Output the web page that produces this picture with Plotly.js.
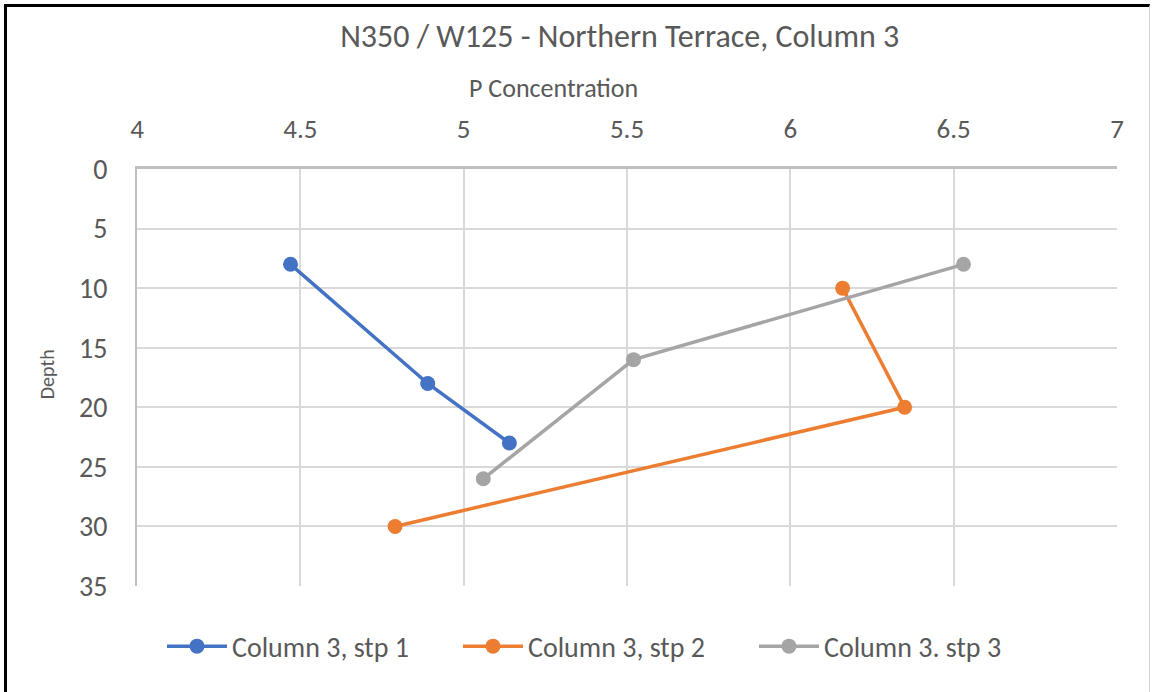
<!DOCTYPE html>
<html>
<head>
<meta charset="utf-8">
<script src="https://cdn.plot.ly/plotly-3.0.1.min.js"></script>
<style>
  html, body { margin: 0; padding: 0; background: #fff; }
  #wrap { position: relative; width: 1152px; height: 692px; }
  #chart { width: 1152px; height: 692px; }
  #frame { position: absolute; left: 4px; top: 4px; width: 1146px; height: 688px;
           border-top: 3px solid #000; border-left: 3px solid #000; border-right: 1px solid #d0d0d0;
           box-sizing: border-box; pointer-events: none; }
</style>
</head>
<body>
<div id="wrap">
  <div id="chart"></div>
  <div id="frame"></div>
</div>
<script>
const seriesNames = ["Column 3, stp 1", "Column 3, stp 2", "Column 3. stp 3"];
const stp1_conc = [4.47, 4.89, 5.14];
const stp1_depth = [8, 18, 23];
const stp2_conc = [6.16, 6.35, 4.79];
const stp2_depth = [10, 20, 30];
const stp3_conc = [6.53, 5.52, 5.06];
const stp3_depth = [8, 16, 26];
const colors = ["#4472C4", "#ED7D31", "#A5A5A5"];

const xs = [stp1_conc, stp2_conc, stp3_conc];
const ys = [stp1_depth, stp2_depth, stp3_depth];
const FONT = "Carlito, 'Open Sans', sans-serif";

const traces = xs.map((x, i) => ({
  x: x, y: ys[i], name: seriesNames[i], type: "scatter", mode: "lines+markers",
  line: {color: colors[i], width: 3.5},
  marker: {color: colors[i], size: 15}
}));

const layout = {
  width: 1152, height: 692,
  margin: {l: 137, r: 35, t: 169, b: 106, autoexpand: false},
  paper_bgcolor: "#fff", plot_bgcolor: "#fff",
  font: {family: FONT, color: "#595959"},
  title: {text: "N350 / W125 - Northern Terrace, Column 3", x: 0.538, xanchor: "center",
          y: 0.948, yanchor: "middle", font: {size: 32, color: "#595959", family: FONT}},
  xaxis: {
    side: "top", range: [4, 7], dtick: 0.5, tick0: 4,
    showgrid: true, gridcolor: "#D9D9D9", gridwidth: 2,
    showline: true, linecolor: "#BFBFBF", linewidth: 3,
    zeroline: false, ticks: "", ticklabelstandoff: 17,
    tickfont: {size: 27, color: "#595959"}
  },
  yaxis: {
    range: [35, 0], dtick: 5, tick0: 0,
    showgrid: true, gridcolor: "#D9D9D9", gridwidth: 2,
    showline: true, linecolor: "#BFBFBF", linewidth: 2,
    zeroline: false, ticks: "", ticklabelstandoff: 22,
    tickfont: {size: 28, color: "#595959"}
  },
  annotations: [{
    text: "P Concentration", xref: "paper", yref: "paper",
    x: 0.4255, y: 1.194, xanchor: "center", yanchor: "middle", showarrow: false,
    font: {size: 26, color: "#595959", family: FONT}
  }, {
    text: "Depth", xref: "paper", yref: "paper", textangle: -90,
    x: -0.0918, y: 0.508, xanchor: "center", yanchor: "middle", showarrow: false,
    font: {size: 20, color: "#595959", family: FONT}
  }],
  showlegend: true,
  legend: {orientation: "h", x: 0.0255, xanchor: "left", y: -0.085, yanchor: "top",
           font: {size: 28, color: "#595959"}, itemwidth: 60, entrywidth: 221,
           entrywidthmode: "pixels", traceorder: "normal"}
};

Plotly.newPlot("chart", traces, layout, {displayModeBar: false, staticPlot: true});
</script>
</body>
</html>
